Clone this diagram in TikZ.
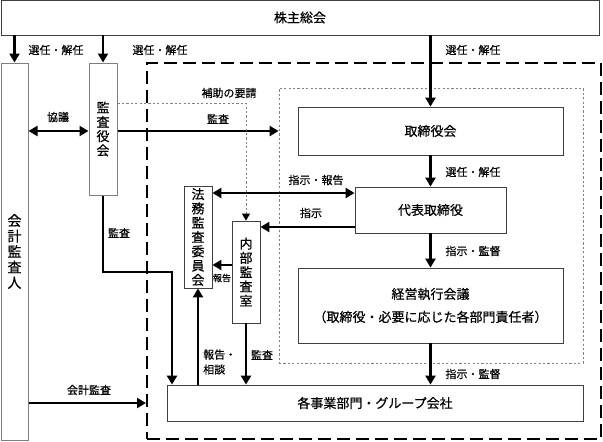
\documentclass[tikz,border=0pt]{standalone}
\usepackage{fontspec}
\setmainfont{Noto Sans CJK JP}[FakeBold=0.5]
\usetikzlibrary{arrows.meta}
\tikzset{
  box/.style={draw=black!75, line width=0.8pt, fill=white, inner sep=0pt, anchor=center},
  gbox/.style={draw=black!50, line width=1pt, fill=white, inner sep=0pt, anchor=center, align=center},
  lbl/.style={font=\fontsize{11}{13}\selectfont, inner sep=0pt},
  slbl/.style={font=\fontsize{9}{10}\selectfont, inner sep=0pt},
  btxt/.style={font=\fontsize{13}{15}\selectfont},
  vtxt/.style={font=\fontsize{13}{14.3}\selectfont, align=center},
  arr/.style={line width=2.6pt, -{Triangle[length=9pt,width=10pt]}},
  darr/.style={line width=2.6pt, {Triangle[length=9pt,width=10pt]}-{Triangle[length=9pt,width=10pt]}},
  thk/.style={line width=2.6pt},
  dotl/.style={draw=black!50, line width=0.8pt, dash pattern=on 2.2pt off 2.2pt},
  bigdash/.style={draw=black, line width=2pt, dash pattern=on 13pt off 6pt},
}
\begin{document}
\begin{tikzpicture}[x=1pt,y=-1pt]
\useasboundingbox (0,0) rectangle (603,442);
% frames
\node[bigdash, minimum width=454pt, minimum height=376pt, inner sep=0pt] (outer) at (374,251) {};
\node[dotl, minimum width=304pt, minimum height=275pt, inner sep=0pt] (inner) at (431,225.5) {};
% boxes
\node[box, minimum width=598pt, minimum height=35pt, btxt] (top) at (300,17.5) {株主総会};
\node[gbox, minimum width=27pt, minimum height=377pt, font=\fontsize{14}{15.5}\selectfont] (kaikei) at (14.5,251.5) {会\\計\\監\\査\\人};
\node[gbox, minimum width=28pt, minimum height=132pt, vtxt] (kansa) at (103,129) {監\\査\\役\\会};
\node[box, minimum width=265pt, minimum height=48pt, btxt] (tori) at (430.5,131) {取締役会};
\node[box, minimum width=151pt, minimum height=46pt, btxt] (daihyo) at (430.5,210) {代表取締役};
\node[box, minimum width=265pt, minimum height=75pt, btxt, align=center] (keiei) at (430.5,305.5) {経営執行会議\\[8pt]（取締役・必要に応じた各部門責任者）};
\node[box, minimum width=416pt, minimum height=36pt, btxt] (jigyo) at (375,403) {各事業部門・グループ会社};
\node[box, minimum width=28pt, minimum height=102pt, vtxt] (homu) at (198,237) {法\\務\\監\\査\\委\\員\\会};
\node[box, minimum width=28pt, minimum height=102pt, vtxt] (naibu) at (246,272) {内\\部\\監\\査\\室};
% coordinates
\coordinate (hojo) at (246,103);
\coordinate (kb) at (172,272);
% arrows from top
\draw[arr] (top.south -| kaikei.north) -- (kaikei.north);
\draw[arr] (top.south -| kansa.north) -- (kansa.north);
\draw[arr] (top.south -| tori.north) -- (tori.north);
\node[lbl] (l1) at (56,50) {選任・解任};
\node[lbl] (l2) at (160,50) {選任・解任};
\node[lbl] (l3) at (473,50) {選任・解任};
% kyogi
\draw[darr] ([yshift=-2pt]kansa.west -| kaikei.east) -- ([yshift=-2pt]kansa.west);
\node[lbl] (l4) at (58,117) {協議};
% kansa to inner
\draw[arr] ([yshift=-2pt]kansa.east) -- ([yshift=-2pt]kansa.east -| inner.west);
\node[lbl] (l5) at (218,119) {監査};
% hojo
\draw[dotl, -{Triangle[length=7pt,width=8pt,black]}] (hojo -| kansa.east) -- (hojo) -- (naibu.north);
\node[lbl] (l6) at (229,93) {補助の要請};
% executive chain
\draw[arr] (tori.south) -- (daihyo.north);
\node[lbl] (l7) at (473,172) {選任・解任};
\draw[arr] (daihyo.south) -- (keiei.north);
\node[lbl] (l8) at (473,251) {指示・監督};
\draw[arr] (keiei.south) -- (keiei.south |- jigyo.north);
\node[lbl] (l9) at (473,374) {指示・監督};
% homu / naibu
\draw[darr] ([yshift=17pt]daihyo.west) -- ([yshift=17pt]daihyo.west -| homu.east);
\node[lbl] (l10) at (316,180) {指示・報告};
\draw[arr] ([yshift=-17pt]daihyo.west) -- ([yshift=-17pt]daihyo.west -| naibu.east);
\node[lbl] (l11) at (311,213) {指示};
\draw[arr] ([yshift=7pt]naibu.west) -- ([yshift=7pt]naibu.west -| homu.east);
\node[slbl] (l12) at (222,278) {報告};
\draw[arr] (naibu.south) -- (naibu.south |- jigyo.north);
\node[lbl] (l13) at (262,355) {監査};
\draw[arr] (homu.south |- jigyo.north) -- (homu.south);
\node[lbl, align=left, anchor=west, font=\fontsize{11}{15}\selectfont] (l14) at (203,362) {報告・\\相談};
% kansa path
\draw[arr] (kansa.south) |- (kb) -- (kb |- jigyo.north);
\node[lbl] (l15) at (119,233) {監査};
% kaikei kansa
\draw[arr] (jigyo.west -| kaikei.east) -- (jigyo.west -| outer.west);
\node[lbl] (l16) at (89,390) {会計監査};
\end{tikzpicture}
\end{document}
